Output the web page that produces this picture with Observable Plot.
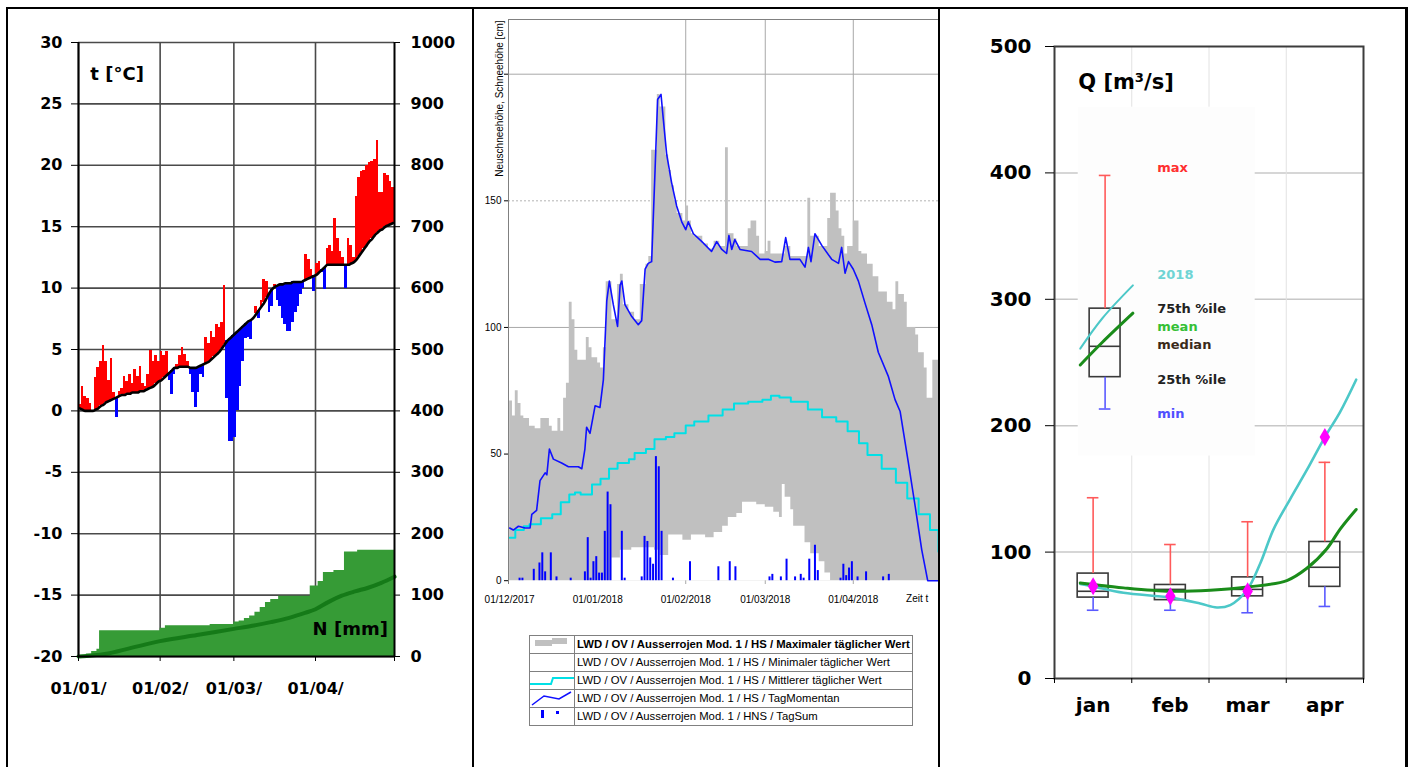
<!DOCTYPE html>
<html>
<head>
<meta charset="utf-8">
<script src="https://cdn.jsdelivr.net/npm/d3@7"></script>
<script src="https://cdn.jsdelivr.net/npm/@observablehq/plot@0.6"></script>
<style>
html,body{margin:0;padding:0;background:#fff;}
#wrap{position:relative;width:1413px;height:767px;overflow:hidden;background:#fff;}
.panel{position:absolute;top:0;}
.bd{position:absolute;background:#000;z-index:10;}
table.leg{position:absolute;left:529px;top:635px;border-collapse:collapse;table-layout:fixed;width:384px;font-family:"Liberation Sans",Arial,sans-serif;font-size:11.3px;color:#000;}
table.leg td{border:1px solid #808080;height:17px;padding:0 0 0 2px;white-space:nowrap;line-height:17px;overflow:hidden;}
table.leg td.sym{width:44px;padding:0;}
table.leg td.sym svg{display:block;}
</style>
</head>
<body>
<div id="wrap">
  <div class="panel" id="p1" style="left:0;width:470px;height:767px"></div>
  <div class="panel" id="p2" style="left:474px;width:464px;height:767px"></div>
  <div class="panel" id="p3" style="left:940px;width:465px;height:767px"></div>
  <table class="leg" id="leg"></table>
  <div class="bd" style="left:6px;top:7px;width:1402px;height:2px"></div>
  <div class="bd" style="left:6px;top:7px;width:2px;height:760px"></div>
  <div class="bd" style="left:472px;top:7px;width:2px;height:760px"></div>
  <div class="bd" style="left:938px;top:7px;width:2px;height:760px"></div>
  <div class="bd" style="left:1405px;top:7px;width:3px;height:760px"></div>
</div>
<script>
// ---------------- Panel 1: temperature & precipitation (1 Jan .. 30 Apr) ----------------
const tempTicks = [-20,-15,-10,-5,0,5,10,15,20,25,30];
const monthTicks1 = [0,31,59,90,120];
const monthLabels1 = ["01/01/","01/02/","01/03/","01/04/",""];
// daily long-term mean temperature (black line)
const tempMean = [
 0.2,0.1,0.0,0.0,0.0,0.0,0.1,0.2,0.4,0.5,0.7,0.8,0.9,1.0,1.1,1.2,1.3,1.3,1.4,1.4,1.5,1.5,1.5,1.6,1.6,1.7,1.8,1.9,2.0,2.2,2.4,
 2.5,2.7,2.9,3.1,3.3,3.5,3.5,3.6,3.6,3.6,3.6,3.5,3.5,3.5,3.6,3.7,3.8,3.9,4.0,4.2,4.4,4.6,4.8,5.1,5.4,5.7,5.9,6.1,
 6.3,6.5,6.7,6.9,7.1,7.3,7.4,7.6,7.9,8.2,8.5,8.8,9.2,9.6,9.9,10.1,10.2,10.3,10.3,10.4,10.4,10.4,10.5,10.5,10.5,10.5,10.6,10.7,10.8,10.9,11.0,
 11.1,11.3,11.5,11.7,11.9,11.9,11.9,11.9,11.9,11.9,11.9,11.9,11.9,12.0,12.1,12.3,12.6,12.9,13.2,13.5,13.8,14.0,14.3,14.5,14.7,14.8,15.0,15.1,15.2,15.3];
// daily temperature 2018
const tempActual = [
 0.5,2.0,1.2,1.0,0.6,-0.1,2.7,3.5,4.0,5.3,4.0,2.5,4.3,1.5,-0.5,1.6,1.8,2.8,2.4,3.0,2.2,3.4,2.8,3.6,2.2,2.0,3.0,4.9,4.0,4.5,4.0,
 4.8,4.5,4.8,2.5,1.3,3.0,3.8,4.5,5.2,4.6,4.0,3.0,1.5,0.3,1.5,3.0,2.7,6.0,5.5,6.5,6.0,7.0,6.8,7.2,10.2,1.0,-2.5,-2.5,
 -2.2,0.0,2.0,4.0,5.9,6.0,5.8,7.6,8.5,7.5,9.0,10.7,10.5,8.0,8.5,10.3,9.0,8.5,7.5,7.0,6.5,6.5,7.2,8.0,8.5,9.5,10.0,12.7,12.3,11.5,9.7,
 12.0,12.2,11.3,9.9,13.2,13.5,13.0,15.7,14.0,13.0,12.5,10.0,14.0,13.5,12.5,17.5,19.0,19.5,19.6,20.0,20.2,20.3,20.5,22.0,17.8,17.8,19.3,19.2,18.7,18.2];
// cumulative precipitation 2018 (mm) and long-term mean cumulative precipitation
const precipDay = [0,3,5,7,8,31,33,50,59,61,63,65,67,69,71,73,76,88,91,93,97,101,106,120];
const precipSum = [0,4,8,12,42,46,50,52,56,58,62,66,72,80,88,93,98,115,122,137,140,170,173,174];
const meanPrecipDay = [0,10,20,31,45,59,66,73,80,86,90,95,100,105,110,115,120];
const meanPrecipSum = [0,4,14,25,35,45,50,56,63,71,77,89,99,106,112,120,130];

const mmToT = mm => -20 + mm * 50 / 1000;
const tToMm = t => Math.round((t + 20) * 1000 / 50);
const temps = tempActual.map((t, i) => ({d: i, t, m: tempMean[i]}));
const precip = precipDay.map((d, i) => ({d, p: precipSum[i]}));
const meanPrecip = meanPrecipDay.map((d, i) => ({d, p: meanPrecipSum[i]}));

const boldFont = "'DejaVu Sans', Verdana, sans-serif";

const p1 = Plot.plot({
  width: 464, height: 706,
  marginTop: 42, marginBottom: 50, marginLeft: 78, marginRight: 70,
  x: {domain: [0, 120], label: null},
  y: {domain: [-20, 30], label: null},
  style: {fontFamily: boldFont, fontWeight: "bold", color: "#000", background: "#fff", overflow: "visible"},
  marks: [
    Plot.gridY(tempTicks, {stroke: "#4a4a4a", strokeOpacity: 1, strokeWidth: 1.6}),
    Plot.gridX(monthTicks1.slice(0, 4), {stroke: "#4a4a4a", strokeOpacity: 1, strokeWidth: 1.6}),
    Plot.areaY(precip, {x: "d", y1: -20, y2: d => mmToT(d.p), curve: "step-after", fill: "#369b36"}),
    Plot.line(meanPrecip, {x: "d", y: d => mmToT(d.p), stroke: "#157a18", strokeWidth: 4, curve: "monotone-x"}),
    Plot.rect(temps, {filter: d => d.t >= d.m, x1: "d", x2: d => d.d + 1, y1: "m", y2: "t", fill: "#ff0000", shapeRendering: "crispEdges"}),
    Plot.rect(temps, {filter: d => d.t < d.m, x1: "d", x2: d => d.d + 1, y1: "m", y2: "t", fill: "#0000ff", shapeRendering: "crispEdges"}),
    Plot.line(temps, {x: d => d.d + 0.5, y: "m", stroke: "#000", strokeWidth: 2.6, curve: "monotone-x"}),
    Plot.ruleX([0, 120], {stroke: "#000", strokeWidth: 2}),
    Plot.ruleY([-20], {stroke: "#000", strokeWidth: 2}),
    Plot.axisY(tempTicks, {anchor: "left", tickSize: 7, tickPadding: 9, fontSize: 16, tickFormat: d => String(d)}),
    Plot.axisY(tempTicks, {anchor: "right", tickSize: 5, tickPadding: 11, fontSize: 16, tickFormat: d => String(tToMm(d))}),
    Plot.axisX(monthTicks1, {anchor: "bottom", tickSize: 5, tickPadding: 21, fontSize: 16, tickFormat: (d, i) => monthLabels1[i]}),
    Plot.text(["t [°C]"], {x: 4.5, y: 27.4, textAnchor: "start", fontSize: 18}),
    Plot.text(["N [mm]"], {x: 117.5, y: -17.8, textAnchor: "end", fontSize: 18})
  ]
});
document.getElementById("p1").appendChild(p1);

// ---------------- Panel 2: snow depth (day 0 = 01/12/2017) ----------------
const hsTicks = [0, 50, 100, 150, 200];
const hsTickLabels = ["0", "50", "100", "150", ""];
const dateTicks2 = [0, 31, 62, 90, 121];
const dateLabels2 = ["01/12/2017", "01/01/2018", "01/02/2018", "01/03/2018", "01/04/2018"];
// historical daily maximum (grey) – step starts and values
const maxStart = [0,1,2,3,4,5,7,9,11,14,15,17,18,19,20,21,22,23,24,27,28,29,31,32,33,34,36,38,39,40,42,44,46,48,49,50,52,53,55,56,57,58,59,61,62,63,64,65,68,70,72,74,76,77,79,80,84,85,87,88,90,91,92,97,99,105,106,109,112,113,115,116,117,118,119,121,123,124,126,128,130,133,135,136,137,139,140,143,144,146,147,149];
const maxVal = [71,65,75,70,65,64,61,60,64,61,59,64,59,72,78,110,103,91,87,96,92,88,86,84,92,118,103,117,121,109,106,103,117,125,128,170,192,187,168,162,156,150,145,142,148,142,137,136,133,131,134,132,171,137,135,132,139,142,136,129,130,134,129,132,128,151,136,132,143,153,146,139,136,129,132,142,130,129,125,120,114,110,107,118,113,110,100,97,90,84,72,87];
// historical daily minimum (white)
const minStart = [0,36,39,43,51,53,56,61,64,69,72,75,77,80,82,87,90,93,95,96,97,99,100,104,106,109,111,113];
const minVal = [0,9,12,13,12,10,18,16,18,17,19,21.5,25,26.5,31,30,29,27,25,38,33,28,21.5,15,10.6,7.5,3,0];
// mean daily snow depth (cyan, stepped)
const meanHSDay = [0,2,5,7,11,15,18,21,23,25,29,32,35,38,42,44,48,51,55,58,62,65,70,75,79,84,89,92,95,99,105,110,115,119,123,126,131,136,140,144,148,151];
const meanHSVal = [17,20,21.5,22.3,24.7,26.2,31,34,34.8,34,38,40.3,44.2,46.5,48,50.4,52,55.9,56.7,58.2,61.3,62.9,65.2,67.6,70,70.7,71.5,73,72.3,70.7,67.6,64.5,62.9,59,54.3,49.6,44.2,38.7,32.5,26.2,20,11.4];
// snow depth 2017/18 (TagMomentan, blue line)
const hsDay = [0,1.3,3.1,5.4,7.2,7.8,9.5,10.7,12.5,13.1,14,15.4,18.3,20.7,24.2,25.4,26.5,27.1,28.3,30.1,31.8,33,34.2,35.1,36.5,38,38.9,39.5,40.6,43,45.3,46.5,47.7,48.8,50,51.2,52.1,53.3,54.1,55.3,57,58.8,60.6,62,62.9,64.7,67.6,71.1,72.9,74.7,76.4,77.2,78.2,79.3,81.1,85.2,88.2,91.1,93.4,95.8,97.2,98.7,102.2,104,105.2,106.1,107.5,109.9,113.4,115.8,116.9,118.1,119.3,121,122.8,125.1,127.5,129.8,133.3,135.7,137.5,140.4,142.8,145.1,147.2,151];
const hsVal = [20.8,20,21.5,20.8,20.8,26.2,27.8,39.5,42.6,41.8,52,48,46.5,45,45,44.2,52,60.6,58.2,69.1,68.4,79.3,110.5,118.3,109,100.4,116.7,118.3,109,104.3,101.1,102.7,123,125.3,126,162,190,192,182.3,168.3,157.3,148,141.7,138.6,141.7,137,134,130,133.9,130.8,129.2,136.3,130.8,134.7,130.8,130,126.9,126.9,125.8,126,135.5,126.9,126.9,123.8,131.6,126,137,132.4,126.9,125.3,131.6,121.4,126,123,118.3,109.7,101.1,90.2,80.8,71.5,66.8,46.5,29.3,12.2,0,0];
// daily new snow sum (HNS TagSum, blue bars)
const newSnowDay = [3,4,8,10,11,12,14,16,21,26,27,28,29,30,31,32,33,34,35,39,40,46,47,48,49,50,51,52,53,57,63,73,77,79,91,92,95,97,100,102,103,105,107,108,116,117,118,119,120,122,125,131,133];
const newSnowVal = [1,1,4.5,7,11,3.5,11,1.5,1,3.5,17,1,7.5,9.5,3,3,19.5,35,30,19.5,1,1.5,17.5,15.5,9,6.5,49,45,19.5,1,7.5,5.5,7.5,5.5,1.5,2.5,1.5,8.5,1.5,2.5,1,8.5,14,4,1,6.5,2,5,7.5,1.5,3.5,1.5,2.5];
const seasonEnd = 151;

const stepPts = (starts, vals) => starts.map((d, i) => ({d, v: vals[i]})).concat([{d: seasonEnd, v: vals[vals.length - 1]}]);
const maxPts = stepPts(maxStart, maxVal);
const minPts = stepPts(minStart, minVal);
const meanHS = meanHSDay.map((d, i) => ({d, v: meanHSVal[i]}));
const hs = hsDay.map((d, i) => ({d, v: hsVal[i]}));
const newSnow = newSnowDay.map((d, i) => ({d, v: newSnowVal[i]}));

const p2 = Plot.plot({
  width: 464, height: 620,
  marginTop: 19, marginBottom: 36, marginLeft: 34, marginRight: 0,
  x: {domain: [-0.4, seasonEnd], label: null},
  y: {domain: [-1.5, 221.6], label: null},
  style: {fontFamily: "'Liberation Sans', Arial, sans-serif", color: "#000", background: "#fff", overflow: "visible"},
  marks: [
    Plot.gridY([100, 200], {stroke: "#a8a8a8", strokeOpacity: 1}),
    Plot.gridY([150], {stroke: "#b4b4b4", strokeOpacity: 1, strokeDasharray: "2,2"}),
    Plot.gridX([62, 90, 121], {stroke: "#a8a8a8", strokeOpacity: 1}),
    Plot.areaY(maxPts, {x: "d", y1: 0, y2: "v", curve: "step-after", fill: "#c0c0c0"}),
    Plot.areaY(minPts, {x: "d", y1: 0, y2: "v", curve: "step-after", fill: "#ffffff"}),
    Plot.ruleX(newSnow, {x: d => d.d + 0.5, y1: 0, y2: "v", stroke: "#0000ff", strokeWidth: 2}),
    Plot.line(meanHS, {x: "d", y: "v", curve: "step-after", stroke: "#00e0e6", strokeWidth: 2}),
    Plot.line(hs, {x: "d", y: "v", stroke: "#1010ff", strokeWidth: 1.6}),
    Plot.ruleX([-0.4], {stroke: "#808080"}),
    Plot.ruleY([221.6], {stroke: "#808080"}),
    Plot.axisY(hsTicks, {anchor: "left", tickSize: 4, tickPadding: 3, fontSize: 10, tickFormat: (d, i) => hsTickLabels[i]}),
    Plot.axisX(dateTicks2, {anchor: "bottom", tickSize: 0, tickPadding: 11, fontSize: 10, tickFormat: (d, i) => dateLabels2[i]}),
    Plot.text(["Zeit t"], {x: 143.5, frameAnchor: "bottom", dy: 17, fontSize: 10}),
    Plot.text(["Neuschneehöhe, Schneehöhe [cm]"], {frameAnchor: "top-left", dx: -13, dy: 1, rotate: -90, textAnchor: "end", fontSize: 10})
  ]
});
document.getElementById("p2").appendChild(p2);

// legend table of panel 2
const legendNames2 = [
  "LWD / OV / Ausserrojen Mod. 1 / HS / Maximaler täglicher Wert",
  "LWD / OV / Ausserrojen Mod. 1 / HS / Minimaler täglicher Wert",
  "LWD / OV / Ausserrojen Mod. 1 / HS / Mittlerer täglicher Wert",
  "LWD / OV / Ausserrojen Mod. 1 / HS / TagMomentan",
  "LWD / OV / Ausserrojen Mod. 1 / HNS / TagSum"
];
const legendSymbols2 = [
  '<svg width="44" height="17"><path d="M5,4H22V2H37V8H22V10H5Z" fill="#c0c0c0"/></svg>',
  '<svg width="44" height="17"></svg>',
  '<svg width="44" height="17"><polyline points="0,12 21,12 23,6 44,6" fill="none" stroke="#00e0e6" stroke-width="2"/></svg>',
  '<svg width="44" height="17"><polyline points="2,15 14,6 29,9 41,2" fill="none" stroke="#1010ff" stroke-width="1.5"/></svg>',
  '<svg width="44" height="17"><rect x="11" y="2" width="3" height="8" fill="#0000ff"/><rect x="26" y="3" width="3" height="3" fill="#0000ff"/></svg>'
];
document.getElementById("leg").innerHTML = legendNames2.map((n, i) =>
  `<tr><td class="sym">${legendSymbols2[i]}</td><td>${i === 0 ? "<b>" + n + "</b>" : n}</td></tr>`).join("");

// ---------------- Panel 3: discharge box plots ----------------
const months = ["jan", "feb", "mar", "apr"];
const qMax = [143, 106, 124, 171];
const q75 = [83, 74, 80, 108];
const qMedian = [69, 70.5, 70.5, 88];
const q25 = [64, 62, 65, 72.5];
const qMin = [54, 54, 52, 57];
const q2018 = [73, 65, 69, 191];
const q2018CurveX = [0.333,0.497,0.893,1.498,1.886,2.102,2.275,2.490,2.663,2.835,3.051,3.267,3.5,3.698,3.905];
const q2018CurveY = [74.8,72.9,67.8,64,59.3,56.2,58.1,69.8,91,118,142,165,191,211,236.4];
const qMeanCurveX = [0.333,0.497,0.893,1.498,2.016,2.525,3.008,3.267,3.526,3.698,3.905];
const qMeanCurveY = [75.6,74.4,71.7,69,69.8,72.5,77.5,87.2,102.7,118.2,133.7];
// explanatory example box (inset key)
const keyBox = {max: 398, q75: 292.6, med: 262.8, q25: 238.4, min: 213.2};
const keyLineX = [0.333, 0.62, 1.015];
const key2018Y = [261, 285, 311];
const keyMeanY = [248, 266, 289];
const keyLabels = ["max", "2018", "75th %ile", "mean", "median", "25th %ile", "min"];
const keyLabelY = [404, 319, 292.6, 278, 264.3, 236.4, 209];
const keyLabelColors = ["#ff3030", "#6fd4d4", "#222222", "#35c035", "#3a2a1a", "#222222", "#5050ff"];
const qTicks = [0, 100, 200, 300, 400, 500];

const boxes = months.map((m, i) => ({c: i + 0.5, max: qMax[i], q75: q75[i], med: qMedian[i], q25: q25[i], min: qMin[i]}))
  .concat([{c: 0.655, ...keyBox}]);
const q18pts = months.map((m, i) => ({c: i + 0.5, v: q2018[i]}));
const curve18 = q2018CurveX.map((x, i) => ({x, y: q2018CurveY[i]}));
const curveMean = qMeanCurveX.map((x, i) => ({x, y: qMeanCurveY[i]}));
const key18 = keyLineX.map((x, i) => ({x, y: key2018Y[i]}));
const keyMean = keyLineX.map((x, i) => ({x, y: keyMeanY[i]}));
const keyText = keyLabels.map((t, i) => ({t, y: keyLabelY[i], c: keyLabelColors[i]}));

const hw = 0.2, cw = 0.075;
const p3 = Plot.plot({
  width: 463, height: 728,
  marginTop: 46, marginBottom: 50, marginLeft: 114, marginRight: 40,
  x: {domain: [0, 4], label: null},
  y: {domain: [0, 500], label: null},
  color: {type: "identity"},
  style: {fontFamily: boldFont, fontWeight: "bold", color: "#000", background: "#fff", overflow: "visible"},
  marks: [
    Plot.gridY([100, 200, 300, 400], {stroke: "#c8c8c8", strokeOpacity: 1, strokeWidth: 1.5}),
    Plot.gridX([1, 2, 3], {stroke: "#e2e2e2", strokeOpacity: 1}),
    Plot.rect([0], {x1: 0.307, x2: 2.598, y1: 176, y2: 452, fill: "#fdfdfd"}),
    Plot.rect(boxes, {x1: d => d.c - hw, x2: d => d.c + hw, y1: "q25", y2: "q75", fill: "none", stroke: "#3a3a3a", strokeWidth: 1.6}),
    Plot.ruleY(boxes, {x1: d => d.c - hw, x2: d => d.c + hw, y: "med", stroke: "#3a3a3a", strokeWidth: 1.6}),
    Plot.ruleX(boxes, {x: "c", y1: "q75", y2: "max", stroke: "#ff5a5a", strokeWidth: 1.6}),
    Plot.ruleY(boxes, {x1: d => d.c - cw, x2: d => d.c + cw, y: "max", stroke: "#ff5a5a", strokeWidth: 1.6}),
    Plot.ruleX(boxes, {x: "c", y1: "min", y2: "q25", stroke: "#5a5aff", strokeWidth: 1.6}),
    Plot.ruleY(boxes, {x1: d => d.c - cw, x2: d => d.c + cw, y: "min", stroke: "#5a5aff", strokeWidth: 1.6}),
    Plot.line(curve18, {x: "x", y: "y", curve: "catmull-rom", stroke: "#4cc8c8", strokeWidth: 2.6}),
    Plot.line(curveMean, {x: "x", y: "y", curve: "catmull-rom", stroke: "#1a8c1a", strokeWidth: 3}),
    Plot.line(key18, {x: "x", y: "y", curve: "catmull-rom", stroke: "#4cc8c8", strokeWidth: 2}),
    Plot.line(keyMean, {x: "x", y: "y", curve: "catmull-rom", stroke: "#1a8c1a", strokeWidth: 3}),
    Plot.dot(q18pts, {x: "c", y: "v", symbol: "diamond", r: 5.5, fill: "#ff00ff"}),
    Plot.text(keyText, {x: 1.33, y: "y", text: "t", fill: "c", textAnchor: "start", fontSize: 13}),
    Plot.text(["Q [m³/s]"], {x: 0.307, y: 471.5, textAnchor: "start", fontSize: 21}),
    Plot.frame({stroke: "#3c3c3c", strokeWidth: 2}),
    Plot.axisY(qTicks, {anchor: "left", tickSize: 9, tickPadding: 14, fontSize: 20, tickFormat: d => String(d)}),
    Plot.axisX([0, 1, 2, 3, 4], {anchor: "bottom", tickSize: 5, tickFormat: () => ""}),
    Plot.axisX([0.5, 1.5, 2.5, 3.5], {anchor: "bottom", tickSize: 0, tickPadding: 19, fontSize: 20, tickFormat: (d, i) => months[i]})
  ]
});
document.getElementById("p3").appendChild(p3);
</script>
</body>
</html>
